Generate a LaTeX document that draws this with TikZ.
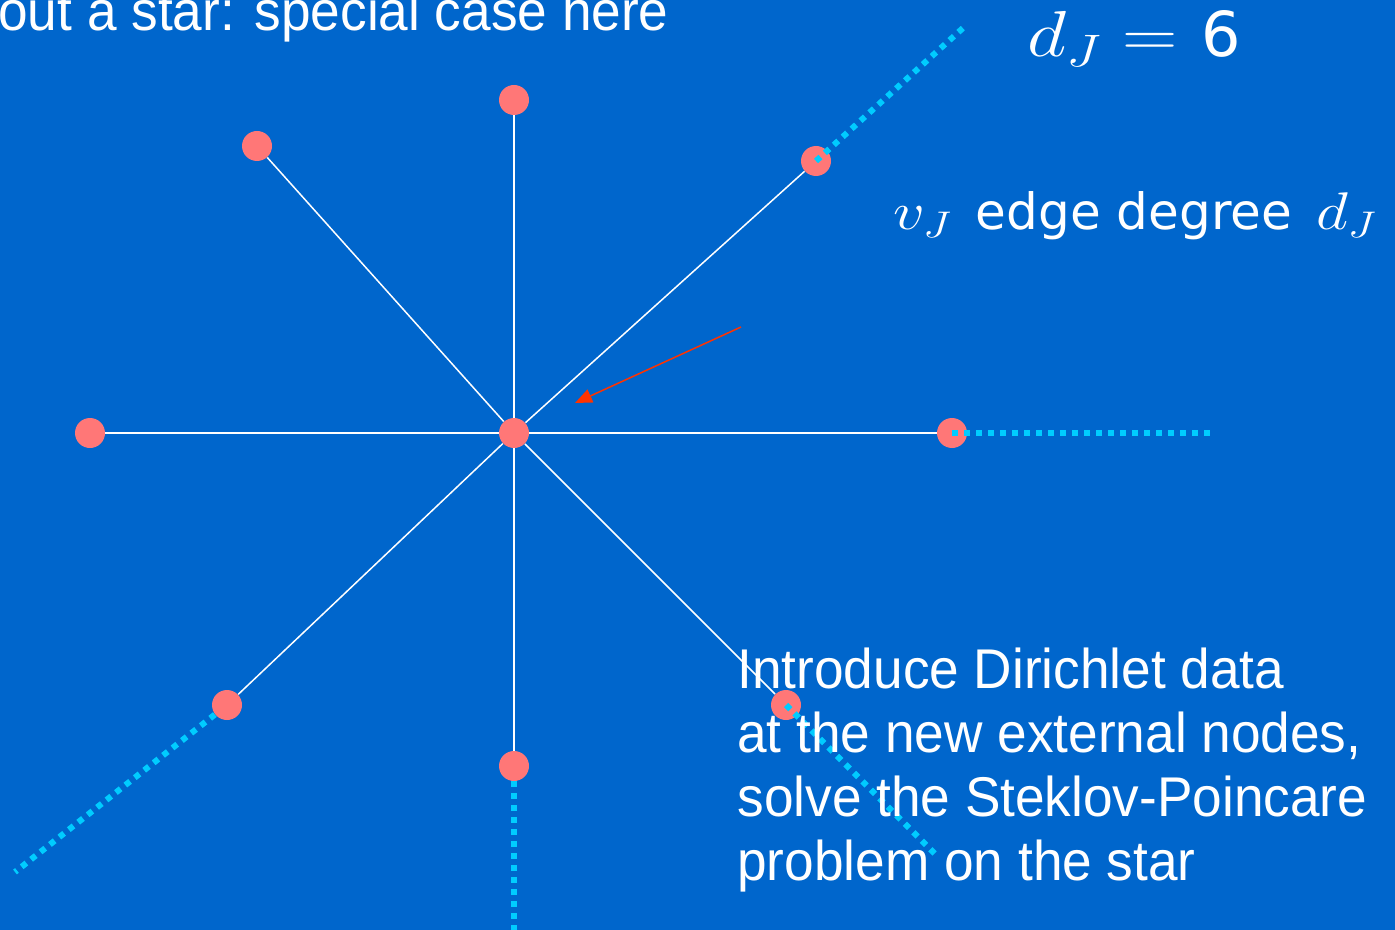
\documentclass[tikz,border=0pt]{standalone}
\usepackage{fix-cm}
\usepackage{graphicx}
\usepackage{fontspec}
\usepackage{xcolor}
\usepackage{tikz}
\usetikzlibrary{arrows.meta}
\newfontfamily\arialfont[FakeStretch=0.95]{Liberation Sans}
\newfontfamily\verafont{DejaVu Sans}
\definecolor{slide}{HTML}{0066CC}
\definecolor{pink}{HTML}{FF7777}
\definecolor{sky}{HTML}{00CCFF}
\definecolor{flame}{HTML}{FF3300}
\newcommand{\widemath}[1]{\scalebox{1.18}[1]{$#1$}}

\begin{document}
\begin{tikzpicture}[x=0.5pt,y=-0.5pt,>={Triangle[length=8.5pt,width=7pt]}]
\tikzset{vtx/.style={circle,fill=pink,minimum size=15pt,inner sep=0pt},
  spoke/.style={draw=white,line width=0.75pt},
  ext/.style={draw=sky,line width=3pt,dash pattern=on 3pt off 3pt},
  txt/.style={text=white,inner sep=0pt,font=\arialfont\fontsize{28}{32}\selectfont},
  mth/.style={text=white,inner sep=0pt,anchor=base west}}
\fill[slide] (0,0) rectangle (1395,930);
\useasboundingbox (0,0) rectangle (1395,930);
% the star
\node[vtx] (c) at (514,433) {};
\node[vtx] (n) at (514,100) {};
\node[vtx] (nw) at (257,146) {};
\node[vtx] (ne) at (816,161) {};
\node[vtx] (w) at (90,433) {};
\node[vtx] (e) at (952,433) {};
\node[vtx] (sw) at (227,705) {};
\node[vtx] (se) at (786,705) {};
\node[vtx] (s) at (514,766) {};
\draw[spoke] (c) -- (n); \draw[spoke] (c) -- (nw); \draw[spoke] (c) -- (ne);
\draw[spoke] (c) -- (w); \draw[spoke] (c) -- (e);
\draw[spoke] (c) -- (sw); \draw[spoke] (c) -- (se); \draw[spoke] (c) -- (s);
% rest of the graph
\coordinate (ne-end) at (963,28);
\coordinate (e-end) at (1210,433);
\coordinate (sw-end) at (15,872);
\coordinate (se-end) at (936,855);
\coordinate (s-end) at (514,930);
\draw[ext] (ne.center) -- (ne-end);
\draw[ext] (e.center) -- (e-end);
\draw[ext] (sw) -- (sw-end);
\draw[ext] (se.center) -- (se-end);
\draw[ext] (s) -- (s-end);
% pointer to the centre
\coordinate (tail) at (741,327);
\coordinate (tip) at (575,403);
\draw[->,flame,line width=0.75pt] (tail) -- (tip);
% texts
\node[txt,anchor=base west] (title) at (-2,31) {out a star: special case here};
\node[txt,anchor=base west,align=left] (note) at (737,880) {Introduce Dirichlet data\\at the new external nodes,\\solve the Steklov-Poincare\\problem on the star};
\node[mth,font=\fontsize{32.5}{39}\selectfont] (deg) at (1027,57) {\widemath{d_J =}\hspace{11.5pt}{\verafont\fontsize{31}{36}\selectfont 6}};
\node[mth,font=\fontsize{26.5}{32}\selectfont] (edge) at (893,230) {\widemath{v_J}\hspace{12pt}{\verafont\fontsize{25}{30}\selectfont edge degree}\hspace{12pt}\widemath{d_J}};
\end{tikzpicture}
\end{document}
